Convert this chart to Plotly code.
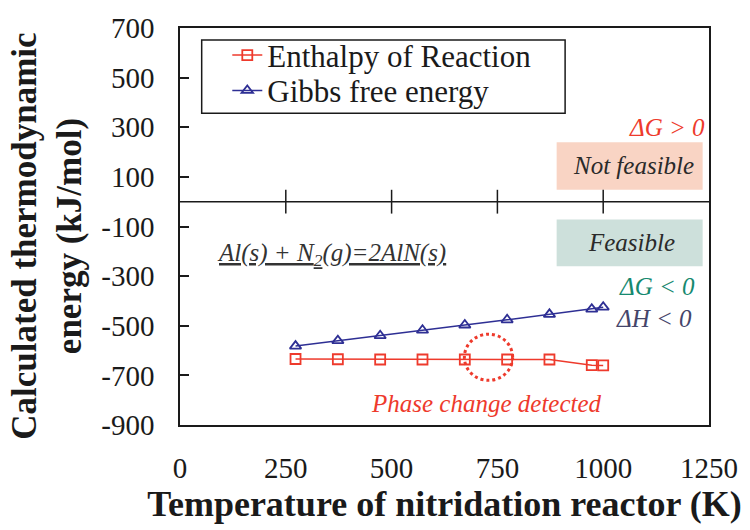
import plotly.graph_objects as go

temperature = [273, 373, 473, 573, 673, 773, 873, 973, 1000]
enthalpy = [-634, -635, -636, -636, -636, -636, -636, -659, -660]
gibbs = [-582, -560, -540, -518, -497, -476, -454, -433, -425]
zero_axis_ticks = [250, 500, 750, 1000]
x_ticks = [0, 250, 500, 750, 1000, 1250]
y_ticks = [700, 500, 300, 100, -100, -300, -500, -700, -900]

SERIF = "Liberation Serif"
RED = "#ee3a2c"
BLUE = "#2e2f94"
INK = "#1a1a1a"

fig = go.Figure()
fig.add_trace(go.Scatter(
    x=temperature, y=enthalpy, mode="lines+markers", name="Enthalpy of Reaction",
    legend="legend",
    line=dict(color=RED, width=1.5),
    marker=dict(symbol="square-open", size=10, color=RED, line=dict(width=1.8)),
))
fig.add_trace(go.Scatter(
    x=temperature, y=gibbs, mode="lines+markers", name="Gibbs free energy",
    legend="legend2",
    line=dict(color=BLUE, width=1.5),
    marker=dict(symbol="triangle-up-open", size=10, color=BLUE, line=dict(width=1.8)),
))
# tick marks on the zero line
fig.add_trace(go.Scatter(
    x=zero_axis_ticks, y=[0] * len(zero_axis_ticks), mode="markers", showlegend=False,
    hoverinfo="skip",
    marker=dict(symbol="line-ns", size=17, line=dict(color=INK, width=1.5)),
))

# zero line
fig.add_shape(type="line", xref="paper", x0=0, x1=1, yref="y", y0=0, y1=0,
              line=dict(color=INK, width=1.5))
# region boxes
fig.add_shape(type="rect", x0=890, x1=1235, y0=48, y1=240, line=dict(width=0),
              fillcolor="#f9d4c4", layer="below")
fig.add_shape(type="rect", x0=890, x1=1235, y0=-260, y1=-72, line=dict(width=0),
              fillcolor="#cde0db", layer="below")
# dotted circle
fig.add_shape(type="circle", x0=672, x1=786, y0=-720, y1=-534,
              line=dict(color=RED, width=3, dash="dot"))
# legend frame
fig.add_shape(type="rect", xref="paper", yref="paper", x0=0.041, x1=0.728, y0=0.785, y1=0.97,
              line=dict(color=INK, width=1.5))

def ann(text, x, y, color, size=25, xanchor="center"):
    fig.add_annotation(x=x, y=y, text=text, showarrow=False, xanchor=xanchor,
                       yanchor="middle", font=dict(family=SERIF, size=size, color=color))

ann("<i>ΔG > 0</i>", 1246, 300, RED, 25, "right")
ann("<i>Not feasible</i>", 1072, 144, "#2a2a2a", 25)
ann("<i>Feasible</i>", 1068, -166, "#2a2a2a", 25)
ann("<i>ΔG < 0</i>", 1221, -340, "#16896f", 25, "right")
ann("<i>ΔH < 0</i>", 1214, -472, "#45456a", 25, "right")
ann("<u><i>Al(s) + N<sub>2</sub>(g)=2AlN(s)</i></u>", 357, -212, "#333", 25)
ann("<i>Phase change detected</i>", 725, -812, RED, 25)

# y-axis title (two lines)
fig.add_annotation(x=-0.335, y=0.475, xref="paper", yref="paper", textangle=-90,
                   text="<b>Calculated thermodynamic<br>energy (kJ/mol)</b>", showarrow=False,
                   font=dict(family=SERIF, size=35, color=INK))

fig.update_xaxes(
    range=[0, 1250], tickvals=x_ticks, ticktext=[str(v) for v in x_ticks],
    showline=True, linecolor=INK, linewidth=1.5, mirror=True,
    ticks="outside", ticklen=16, tickcolor="rgba(0,0,0,0)",
    showgrid=False, zeroline=False,
    tickfont=dict(family=SERIF, size=29, color=INK),
    title=dict(text="<b>Temperature of nitridation reactor (K)</b>",
               font=dict(family=SERIF, size=36, color=INK), standoff=8),
)
fig.update_yaxes(
    range=[-900, 700], tickvals=y_ticks, ticktext=[str(v) for v in y_ticks],
    showline=True, linecolor=INK, linewidth=1.5, mirror=True,
    ticks="inside", ticklen=9, tickcolor=INK, tickwidth=1.5,
    showgrid=False, zeroline=False, ticklabelstandoff=18,
    tickfont=dict(family=SERIF, size=29, color=INK),
)
legend_common = dict(xanchor="left", yanchor="middle", borderwidth=0,
                     bgcolor="rgba(0,0,0,0)",
                     font=dict(family=SERIF, size=31, color=INK), itemsizing="trace")
fig.update_layout(
    width=750, height=530, margin=dict(l=180, r=33, t=25, b=105),
    paper_bgcolor="white", plot_bgcolor="white",
    legend=dict(x=0.0894, y=0.931, **legend_common),
    legend2=dict(x=0.0894, y=0.842, **legend_common),
)
fig.write_html("out.html")
